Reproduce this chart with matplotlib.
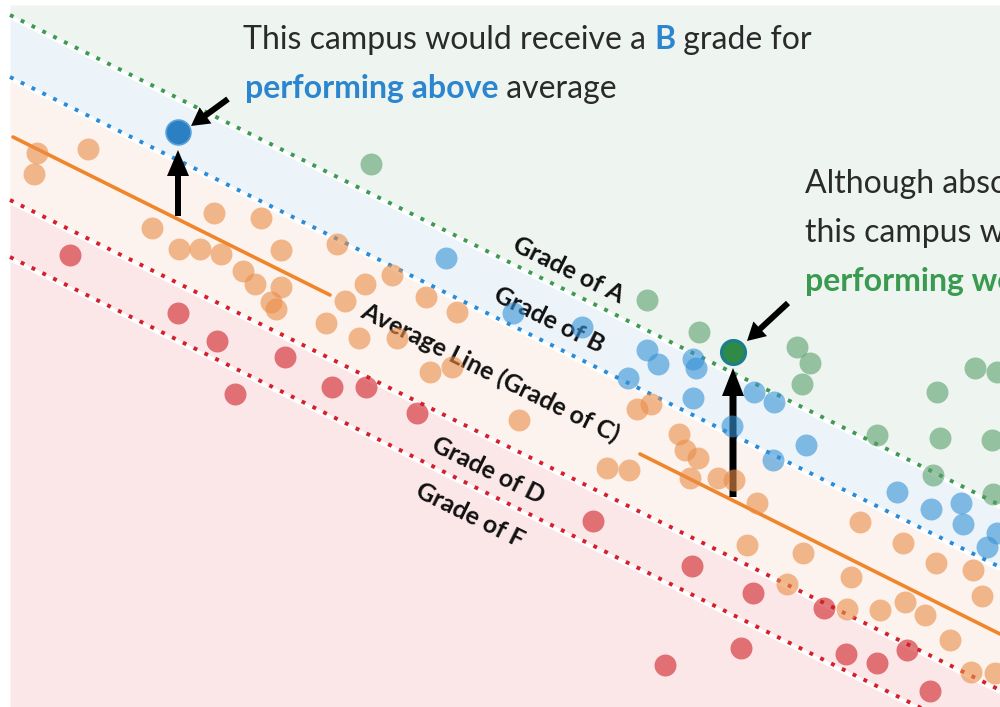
import matplotlib
matplotlib.use("Agg")
import matplotlib.pyplot as plt
import numpy as np

# ---------------- data (diagram coordinates) ----------------
red_x = [70, 178, 217, 235, 285, 332, 366, 417, 593, 692, 753, 741, 665, 824, 846, 877, 907, 930]
red_y = [255, 313, 341, 394, 357, 387, 387, 413, 521, 566, 593, 648, 665, 608, 654, 663, 650, 691]

orange_x = [37, 34, 88, 152, 214, 261, 179, 200, 221, 243, 255, 281, 281, 271, 276, 326, 337, 345,
            365, 392, 426, 457, 359, 397, 430, 452, 519, 637, 651, 679, 685, 698, 607, 629, 690, 718,
            734, 757, 860, 747, 803, 903, 936, 973, 851, 787, 982, 847, 880, 905, 925, 950, 971, 995]
orange_y = [153, 174, 149, 228, 213, 218, 249, 249, 254, 271, 284, 250, 287, 302, 309, 323, 244, 301,
            284, 275, 297, 312, 338, 338, 372, 367, 420, 409, 404, 434, 450, 458, 468, 470, 478, 478,
            480, 503, 522, 545, 553, 543, 563, 570, 577, 584, 596, 609, 610, 602, 615, 640, 672, 673]

blue_x = [446, 513, 582, 628, 647, 658, 693, 696, 693, 732, 754, 774, 806, 773, 897, 931, 961, 963, 987, 997]
blue_y = [258, 313, 327, 378, 350, 364, 359, 368, 398, 426, 392, 402, 445, 460, 492, 509, 503, 524, 547, 533]

green_x = [371, 647, 699, 797, 810, 802, 975, 997, 937, 877, 940, 992, 933, 993]
green_y = [164, 300, 332, 347, 363, 384, 368, 372, 392, 435, 438, 440, 475, 494]

highlight_blue = (178, 132)
highlight_green = (733, 352)

# grade boundary lines: y at x=10 and slope
grade_names = ["A", "B", "D", "F"]
grade_y0 = [15, 77, 200, 257]
grade_slope = 0.495

avg_segments = [((13, 137), (330, 295)), ((640, 454), (1000, 634))]

label_texts = ["Grade of A", "Grade of B", "Average Line (Grade of C)", "Grade of D", "Grade of F"]
label_pos = [(568, 270), (549, 320), (490, 373), (488, 470), (470, 515)]

# ---------------- figure ----------------
W, H = 1000, 707
fig = plt.figure(figsize=(10, 7.07), dpi=100)
ax = fig.add_axes([0, 0, 1, 1])
ax.set_xlim(0, W)
ax.set_ylim(H, 0)
ax.axis("off")

FONT = "Lato"
LFONT = "Lato"

x0, x1, ytop = 10, 1000, 5
xs = np.linspace(x0, x1, 200)

def gline(i):
    return grade_y0[i] + grade_slope * (xs - x0)

yA, yB, yD, yF = [gline(i) for i in range(4)]
clip = lambda y: np.clip(y, ytop, H)

ax.fill_between(xs, ytop, clip(yA), color="#eef4f0", lw=0, zorder=0)
ax.fill_between(xs, clip(yA), clip(yB), color="#ecf4f9", lw=0, zorder=0)
ax.fill_between(xs, clip(yB), clip(yD), color="#fcf3ee", lw=0, zorder=0)
ax.fill_between(xs, clip(yD), H, color="#fbe6e8", lw=0, zorder=0)

line_colors = ["#3d9a55", "#2b8bd6", "#d4202c", "#d4202c"]
for yy, c in zip([yA, yB, yD, yF], line_colors):
    ax.plot(xs, yy + 2.0, color="white", lw=3.0, zorder=1, solid_capstyle="butt")
    ax.plot(xs, yy, color=c, lw=2.8, ls=(0, (1, 2.1)), zorder=2)

for (p, q) in avg_segments:
    ax.plot([p[0], q[0]], [p[1], q[1]], color="#f0852a", lw=2.6, zorder=3, solid_capstyle="round")

# arrows (under the dots)
def arrow(tail, tip, w, hw, hl):
    ax.arrow(tail[0], tail[1], tip[0] - tail[0], tip[1] - tail[1], width=w, head_width=hw,
             head_length=hl, length_includes_head=True, color="black", lw=0, zorder=4)

arrow((178, 216), (178, 150), 6, 22, 26)
arrow((228, 99), (191, 126), 6, 20, 18)
arrow((733, 497), (733, 368), 7, 22, 28)
arrow((788, 303), (747, 341), 6, 20, 18)

# rotated grade labels (under the dots)
ang = -np.degrees(np.arctan(grade_slope))
for t, (px, py) in zip(label_texts, label_pos):
    ax.text(px, py, t, rotation=ang, rotation_mode="anchor", ha="center", va="center",
            fontsize=18, fontweight="bold", family=LFONT, color="#111111", zorder=4.5)

S = 250
ax.scatter(red_x, red_y, s=S, color="#ce2127", alpha=0.6, lw=0, zorder=5)
ax.scatter(orange_x, orange_y, s=S, color="#eb8d47", alpha=0.6, lw=0, zorder=5)
ax.scatter(blue_x, blue_y, s=S, color="#3592d6", alpha=0.6, lw=0, zorder=5)
ax.scatter(green_x, green_y, s=S, color="#589f6b", alpha=0.6, lw=0, zorder=5)

ax.scatter([highlight_blue[0]], [highlight_blue[1]], s=320, color="#2a80c2",
           edgecolor="#5aa2da", lw=1.2, zorder=6)
ax.scatter([highlight_green[0]], [highlight_green[1]], s=300, color="#2f8a48",
           edgecolor="#1b7e8e", lw=2.2, zorder=6)

# annotation text with coloured runs
fig.canvas.draw()
renderer = fig.canvas.get_renderer()

def runs(x, y, parts, size=23):
    for txt, col, wt in parts:
        t = ax.text(x, y, txt, fontsize=size, family=FONT, color=col, fontweight=wt,
                    ha="left", va="baseline", zorder=8)
        bb = t.get_window_extent(renderer=renderer)
        x += bb.width

dark = "#2a2a2a"
blue_t = "#2b86cf"
green_t = "#3a9a50"
runs(243, 49, [("This campus would receive a ", dark, "normal"), ("B", blue_t, "bold"),
               (" grade for", dark, "normal")])
runs(245, 98, [("performing above", blue_t, "bold"), (" average", dark, "normal")])
runs(805, 193, [("Although absolutely lower,", dark, "normal")])
runs(805, 242, [("this campus would receive an ", dark, "normal"), ("A", green_t, "bold"),
                (" grade for", dark, "normal")])
runs(805, 291, [("performing well above", green_t, "bold"), (" average", dark, "normal")])

fig.savefig("out.png", dpi=100, facecolor="white")
